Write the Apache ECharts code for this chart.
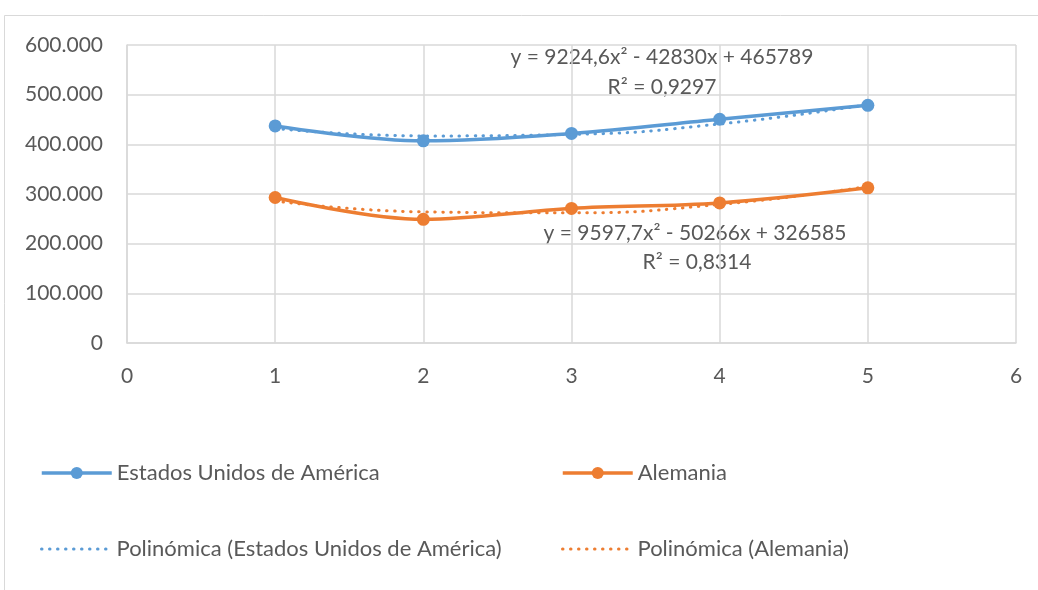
<!DOCTYPE html>
<html><head><meta charset="utf-8">
<script src="https://cdn.jsdelivr.net/npm/echarts@6/dist/echarts.min.js"></script>
<style>html,body{margin:0;padding:0;background:#fff}#c{width:1038px;height:590px}</style>
</head><body><div id="c"></div>
<script>
const xValues = [1, 2, 3, 4, 5];
const usaValues = [437000, 407000, 422000, 450500, 478500];
const deuValues = [293000, 249000, 271000, 282000, 312500];
const usaTrend = [432000, 417000, 420000, 441000, 480000];
const deuTrend = [286000, 264000, 262000, 279000, 315000];
const seriesNames = ['Estados Unidos de América', 'Alemania', 'Polinómica (Estados Unidos de América)', 'Polinómica (Alemania)'];
const usaEquation = ['y = 9224,6x² - 42830x + 465789', 'R² = 0,9297'];
const deuEquation = ['y = 9597,7x² - 50266x + 326585', 'R² = 0,8314'];

const FONT = 'Lato';
const TXT = '#595959';
const FS = 21;
const pair = (xs, ys) => xs.map((x, i) => [x, ys[i]]);
const fmt = v => v === 0 ? '0' : String(v).replace(/\B(?=(\d{3})+(?!\d))/g, '.');

const chart = echarts.init(document.getElementById('c'), null, {renderer: 'canvas'});
const legendBase = {itemWidth: 70, itemHeight: 15, itemGap: 6, padding: 0,
  textStyle: {color: TXT, fontFamily: FONT, fontSize: 22}, selectedMode: false};
const mainLegend = Object.assign({}, legendBase, {lineStyle: {width: 3.5}});
const trendLegend = Object.assign({}, legendBase, {lineStyle: {width: 3}, itemStyle: {opacity: 0}});
chart.setOption({
  animation: false,
  backgroundColor: '#fff',
  grid: {left: 127, right: 22, top: 45, bottom: 247, containLabel: false},
  xAxis: {type: 'value', min: 0, max: 6, interval: 1,
    axisLine: {show: true, lineStyle: {color: '#d9d9d9', width: 1.5}}, axisTick: {show: false},
    splitLine: {show: true, lineStyle: {color: '#d9d9d9', width: 1.5}},
    axisLabel: {color: TXT, fontFamily: FONT, fontSize: FS, margin: 23}},
  yAxis: {type: 'value', min: 0, max: 600000, interval: 100000,
    axisLine: {show: true, lineStyle: {color: '#d9d9d9', width: 1.5}}, axisTick: {show: false},
    splitLine: {show: true, lineStyle: {color: '#d9d9d9', width: 1.5}},
    axisLabel: {color: TXT, fontFamily: FONT, fontSize: FS, margin: 24, formatter: fmt}},
  legend: [
    Object.assign({}, mainLegend, {data: [seriesNames[0]], left: 40, top: 462}),
    Object.assign({}, mainLegend, {data: [seriesNames[1]], left: 561, top: 462}),
    Object.assign({}, trendLegend, {data: [seriesNames[2]], left: 40, top: 538}),
    Object.assign({}, trendLegend, {data: [seriesNames[3]], left: 561, top: 538})
  ],
  graphic: [
    {type: 'rect', shape: {x: 4.5, y: 15.5, width: 1100, height: 700}, style: {fill: 'none', stroke: '#d9d9d9', lineWidth: 1}, silent: true, z: -10},
    {type: 'text', x: 662, y: 57, style: {text: usaEquation[0], fill: TXT, font: FS + 'px ' + FONT, textAlign: 'center', textVerticalAlign: 'middle'}},
    {type: 'text', x: 662, y: 87, style: {text: usaEquation[1], fill: TXT, font: FS + 'px ' + FONT, textAlign: 'center', textVerticalAlign: 'middle'}},
    {type: 'text', x: 695, y: 233, style: {text: deuEquation[0], fill: TXT, font: FS + 'px ' + FONT, textAlign: 'center', textVerticalAlign: 'middle'}},
    {type: 'text', x: 697, y: 262, style: {text: deuEquation[1], fill: TXT, font: FS + 'px ' + FONT, textAlign: 'center', textVerticalAlign: 'middle'}}
  ],
  series: [
    {name: seriesNames[0], type: 'line', data: pair(xValues, usaValues), smooth: 0.35, symbol: 'circle', symbolSize: 13,
      itemStyle: {color: '#5B9BD5'}, lineStyle: {color: '#5B9BD5', width: 3.5}, z: 3},
    {name: seriesNames[1], type: 'line', data: pair(xValues, deuValues), smooth: 0.35, symbol: 'circle', symbolSize: 13,
      itemStyle: {color: '#ED7D31'}, lineStyle: {color: '#ED7D31', width: 3.5}, z: 3},
    {name: seriesNames[2], type: 'line', data: pair(xValues, usaTrend), smooth: 0.5, symbol: 'none',
      itemStyle: {color: '#5B9BD5'}, lineStyle: {color: '#5B9BD5', width: 3, type: [0.5, 7.5], cap: 'round'}, z: 4},
    {name: seriesNames[3], type: 'line', data: pair(xValues, deuTrend), smooth: 0.5, symbol: 'none',
      itemStyle: {color: '#ED7D31'}, lineStyle: {color: '#ED7D31', width: 3, type: [0.5, 7.5], cap: 'round'}, z: 4}
  ]
});
</script></body></html>
